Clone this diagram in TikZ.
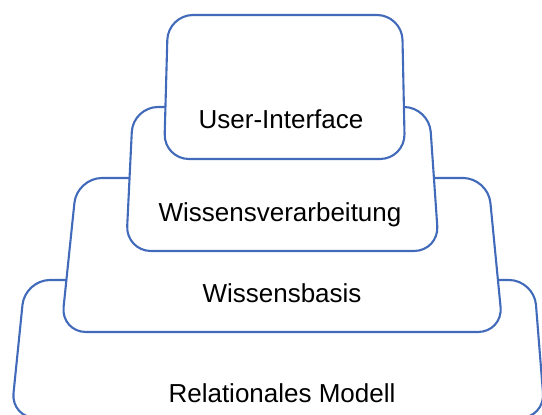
\documentclass[tikz,border=0pt]{standalone}
\usepackage{fontspec}
\setmainfont{Liberation Sans}
\definecolor{layerblue}{RGB}{66,106,186}
\begin{document}
\begin{tikzpicture}[x=1pt,y=1pt,
  layer/.style={draw=layerblue,line width=2.1pt,fill=white,rounded corners=25pt,line join=round},
  lbl/.style={anchor=base,inner sep=0pt,font=\fontsize{26}{31}\selectfont,text=black}]
\useasboundingbox (0,0) rectangle (542,415);
\clip (0,0) rectangle (542,415);
% Relationales Modell (bottom layer)
\draw[layer] (25,135) -- (534,135) -- (545,-3) -- (11,-3) -- cycle;
% Wissensbasis
\draw[layer] (77,237) -- (488,237) -- (503,83) -- (61,83) -- cycle;
% Wissensverarbeitung
\draw[layer] (133,308) -- (429,308) -- (439,164) -- (126,164) -- cycle;
% User-Interface (top layer)
\draw[layer] (168,400) -- (402,400) -- (405,256) -- (164,256) -- cycle;
\node[lbl] (ui) at (281,286) {User-Interface};
\node[lbl] (wv) at (280,193) {Wissensverarbeitung};
\node[lbl] (wb) at (282,112) {Wissensbasis};
\node[lbl] (rm) at (282,12) {Relationales Modell};
\end{tikzpicture}
\end{document}
